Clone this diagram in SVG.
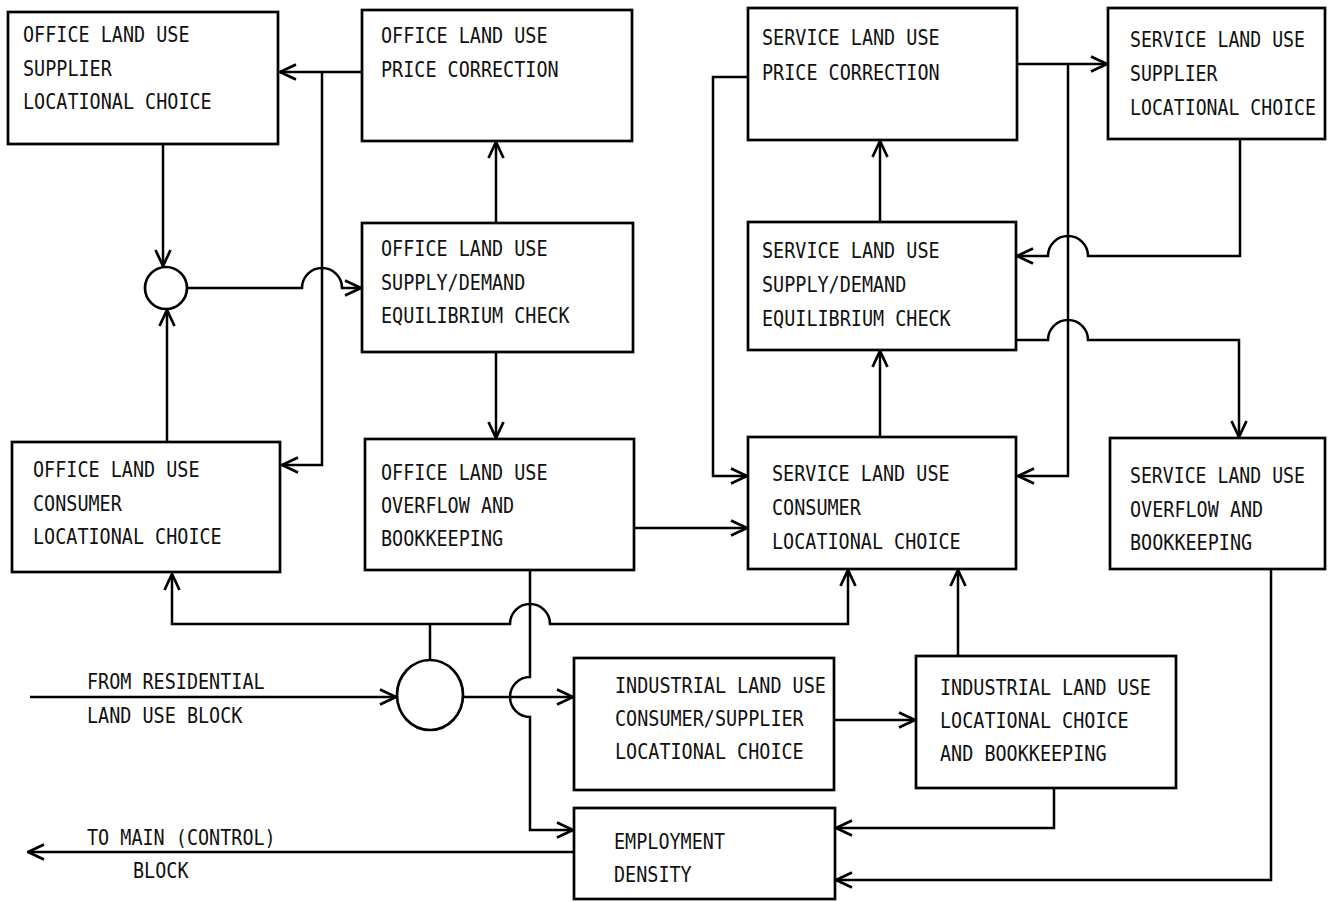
<svg xmlns="http://www.w3.org/2000/svg" width="1329" height="902" viewBox="0 0 1329 902">
<style>
.box{fill:#fff;stroke:#000;stroke-width:2.7}
.ln{fill:none;stroke:#000;stroke-width:2.5}
.arr{marker-end:url(#ah)}
.t{font-family:"DejaVu Sans Mono","Liberation Mono",monospace;font-size:21px;fill:#111}
</style>
<defs>
<marker id="ah" viewBox="0 0 18 18" refX="17" refY="9" markerWidth="18" markerHeight="18" markerUnits="userSpaceOnUse" orient="auto">
<path d="M1,1.5 L17,9 L1,16.5" fill="none" stroke="#000" stroke-width="2.7" stroke-linejoin="miter"/>
</marker>
</defs>
<rect width="1329" height="902" fill="#fff"/>

<g id="connectors">
<path class="ln arr" d="M362,72 H280"/>
<path class="ln arr" d="M322,72 V465 H282"/>
<path class="ln arr" d="M163,144 V266"/>
<path class="ln arr" d="M167,442 V310"/>
<path class="ln arr" d="M187,288 H302 A20,20 0 0 1 342,288 H361"/>
<path class="ln arr" d="M496,223 V142"/>
<path class="ln arr" d="M496,352 V438"/>
<path class="ln arr" d="M634,528 H747"/>
<path class="ln arr" d="M530,570 V677 A20,20 0 0 0 530,717 V830 H573"/>
<path class="ln" d="M430,660 V624"/>
<path class="ln arr" d="M430,624 H510 A20,20 0 0 1 550,624 H848 V570"/>
<path class="ln arr" d="M430,624 H172 V574"/>
<path class="ln arr" d="M30,697 H396"/>
<path class="ln arr" d="M463,697 H573"/>
<path class="ln arr" d="M834,720 H915"/>
<path class="ln arr" d="M958,656 V570"/>
<path class="ln arr" d="M1054,788 V828 H836"/>
<path class="ln arr" d="M1271,569 V880 H836"/>
<path class="ln arr" d="M574,852 H28"/>
<path class="ln arr" d="M748,77 H713 V476 H747"/>
<path class="ln arr" d="M1017,64 H1107"/>
<path class="ln arr" d="M1068,64 V476 H1018"/>
<path class="ln arr" d="M1240,140 V256 H1088 A20,20 0 0 0 1048,256 H1017"/>
<path class="ln arr" d="M1016,340 H1048 A20,20 0 0 1 1088,340 H1239 V437"/>
<path class="ln arr" d="M880,222 V141"/>
<path class="ln arr" d="M880,437 V351"/>
</g>

<g id="junction1"><circle class="box" cx="166" cy="288" r="21"/></g>
<g id="junction2"><ellipse class="box" cx="430" cy="695" rx="33" ry="35"/></g>

<g id="office-supplier">
<rect class="box" x="8" y="12" width="270" height="132"/>
<text class="t" x="23" y="42" textLength="166.5" lengthAdjust="spacingAndGlyphs">OFFICE LAND USE</text>
<text class="t" x="23" y="76" textLength="88.8" lengthAdjust="spacingAndGlyphs">SUPPLIER</text>
<text class="t" x="23" y="109" textLength="188.7" lengthAdjust="spacingAndGlyphs">LOCATIONAL CHOICE</text>
</g>
<g id="office-price">
<rect class="box" x="362" y="10" width="270" height="131"/>
<text class="t" x="381" y="43" textLength="166.5" lengthAdjust="spacingAndGlyphs">OFFICE LAND USE</text>
<text class="t" x="381" y="77" textLength="177.6" lengthAdjust="spacingAndGlyphs">PRICE CORRECTION</text>
</g>
<g id="office-equilibrium">
<rect class="box" x="362" y="223" width="271" height="129"/>
<text class="t" x="381" y="256" textLength="166.5" lengthAdjust="spacingAndGlyphs">OFFICE LAND USE</text>
<text class="t" x="381" y="290" textLength="144.3" lengthAdjust="spacingAndGlyphs">SUPPLY/DEMAND</text>
<text class="t" x="381" y="323" textLength="188.7" lengthAdjust="spacingAndGlyphs">EQUILIBRIUM CHECK</text>
</g>
<g id="office-consumer">
<rect class="box" x="12" y="442" width="268" height="130"/>
<text class="t" x="33" y="477" textLength="166.5" lengthAdjust="spacingAndGlyphs">OFFICE LAND USE</text>
<text class="t" x="33" y="511" textLength="88.8" lengthAdjust="spacingAndGlyphs">CONSUMER</text>
<text class="t" x="33" y="544" textLength="188.7" lengthAdjust="spacingAndGlyphs">LOCATIONAL CHOICE</text>
</g>
<g id="office-overflow">
<rect class="box" x="365" y="439" width="269" height="131"/>
<text class="t" x="381" y="480" textLength="166.5" lengthAdjust="spacingAndGlyphs">OFFICE LAND USE</text>
<text class="t" x="381" y="513" textLength="133.2" lengthAdjust="spacingAndGlyphs">OVERFLOW AND</text>
<text class="t" x="381" y="546" textLength="122.1" lengthAdjust="spacingAndGlyphs">BOOKKEEPING</text>
</g>
<g id="service-price">
<rect class="box" x="748" y="8" width="269" height="132"/>
<text class="t" x="762" y="45" textLength="177.6" lengthAdjust="spacingAndGlyphs">SERVICE LAND USE</text>
<text class="t" x="762" y="80" textLength="177.6" lengthAdjust="spacingAndGlyphs">PRICE CORRECTION</text>
</g>
<g id="service-supplier">
<rect class="box" x="1108" y="8" width="217" height="131"/>
<text class="t" x="1130" y="47" textLength="175" lengthAdjust="spacingAndGlyphs">SERVICE LAND USE</text>
<text class="t" x="1130" y="81" textLength="87.5" lengthAdjust="spacingAndGlyphs">SUPPLIER</text>
<text class="t" x="1130" y="115" textLength="186" lengthAdjust="spacingAndGlyphs">LOCATIONAL CHOICE</text>
</g>
<g id="service-equilibrium">
<rect class="box" x="748" y="222" width="268" height="128"/>
<text class="t" x="762" y="258" textLength="177.6" lengthAdjust="spacingAndGlyphs">SERVICE LAND USE</text>
<text class="t" x="762" y="292" textLength="144.3" lengthAdjust="spacingAndGlyphs">SUPPLY/DEMAND</text>
<text class="t" x="762" y="326" textLength="188.7" lengthAdjust="spacingAndGlyphs">EQUILIBRIUM CHECK</text>
</g>
<g id="service-consumer">
<rect class="box" x="748" y="437" width="268" height="132"/>
<text class="t" x="772" y="481" textLength="177.6" lengthAdjust="spacingAndGlyphs">SERVICE LAND USE</text>
<text class="t" x="772" y="515" textLength="88.8" lengthAdjust="spacingAndGlyphs">CONSUMER</text>
<text class="t" x="772" y="549" textLength="188.7" lengthAdjust="spacingAndGlyphs">LOCATIONAL CHOICE</text>
</g>
<g id="service-overflow">
<rect class="box" x="1110" y="438" width="215" height="131"/>
<text class="t" x="1130" y="483" textLength="175" lengthAdjust="spacingAndGlyphs">SERVICE LAND USE</text>
<text class="t" x="1130" y="517" textLength="133.2" lengthAdjust="spacingAndGlyphs">OVERFLOW AND</text>
<text class="t" x="1130" y="550" textLength="122.1" lengthAdjust="spacingAndGlyphs">BOOKKEEPING</text>
</g>
<g id="industrial-consumer-supplier">
<rect class="box" x="574" y="658" width="260" height="132"/>
<text class="t" x="615" y="693" textLength="210.9" lengthAdjust="spacingAndGlyphs">INDUSTRIAL LAND USE</text>
<text class="t" x="615" y="726" textLength="188.7" lengthAdjust="spacingAndGlyphs">CONSUMER/SUPPLIER</text>
<text class="t" x="615" y="759" textLength="188.7" lengthAdjust="spacingAndGlyphs">LOCATIONAL CHOICE</text>
</g>
<g id="industrial-locational">
<rect class="box" x="916" y="656" width="260" height="132"/>
<text class="t" x="940" y="695" textLength="210.9" lengthAdjust="spacingAndGlyphs">INDUSTRIAL LAND USE</text>
<text class="t" x="940" y="728" textLength="188.7" lengthAdjust="spacingAndGlyphs">LOCATIONAL CHOICE</text>
<text class="t" x="940" y="761" textLength="166.5" lengthAdjust="spacingAndGlyphs">AND BOOKKEEPING</text>
</g>
<g id="employment-density">
<rect class="box" x="574" y="808" width="261" height="91"/>
<text class="t" x="614" y="849" textLength="111" lengthAdjust="spacingAndGlyphs">EMPLOYMENT</text>
<text class="t" x="614" y="882" textLength="77.7" lengthAdjust="spacingAndGlyphs">DENSITY</text>
</g>
<g id="labels">
<text class="t" x="87" y="689" textLength="177.6" lengthAdjust="spacingAndGlyphs">FROM RESIDENTIAL</text>
<text class="t" x="87" y="723" textLength="155.4" lengthAdjust="spacingAndGlyphs">LAND USE BLOCK</text>
<text class="t" x="87" y="845" textLength="188.7" lengthAdjust="spacingAndGlyphs">TO MAIN (CONTROL)</text>
<text class="t" x="133" y="878" textLength="55.5" lengthAdjust="spacingAndGlyphs">BLOCK</text>
</g>
</svg>
